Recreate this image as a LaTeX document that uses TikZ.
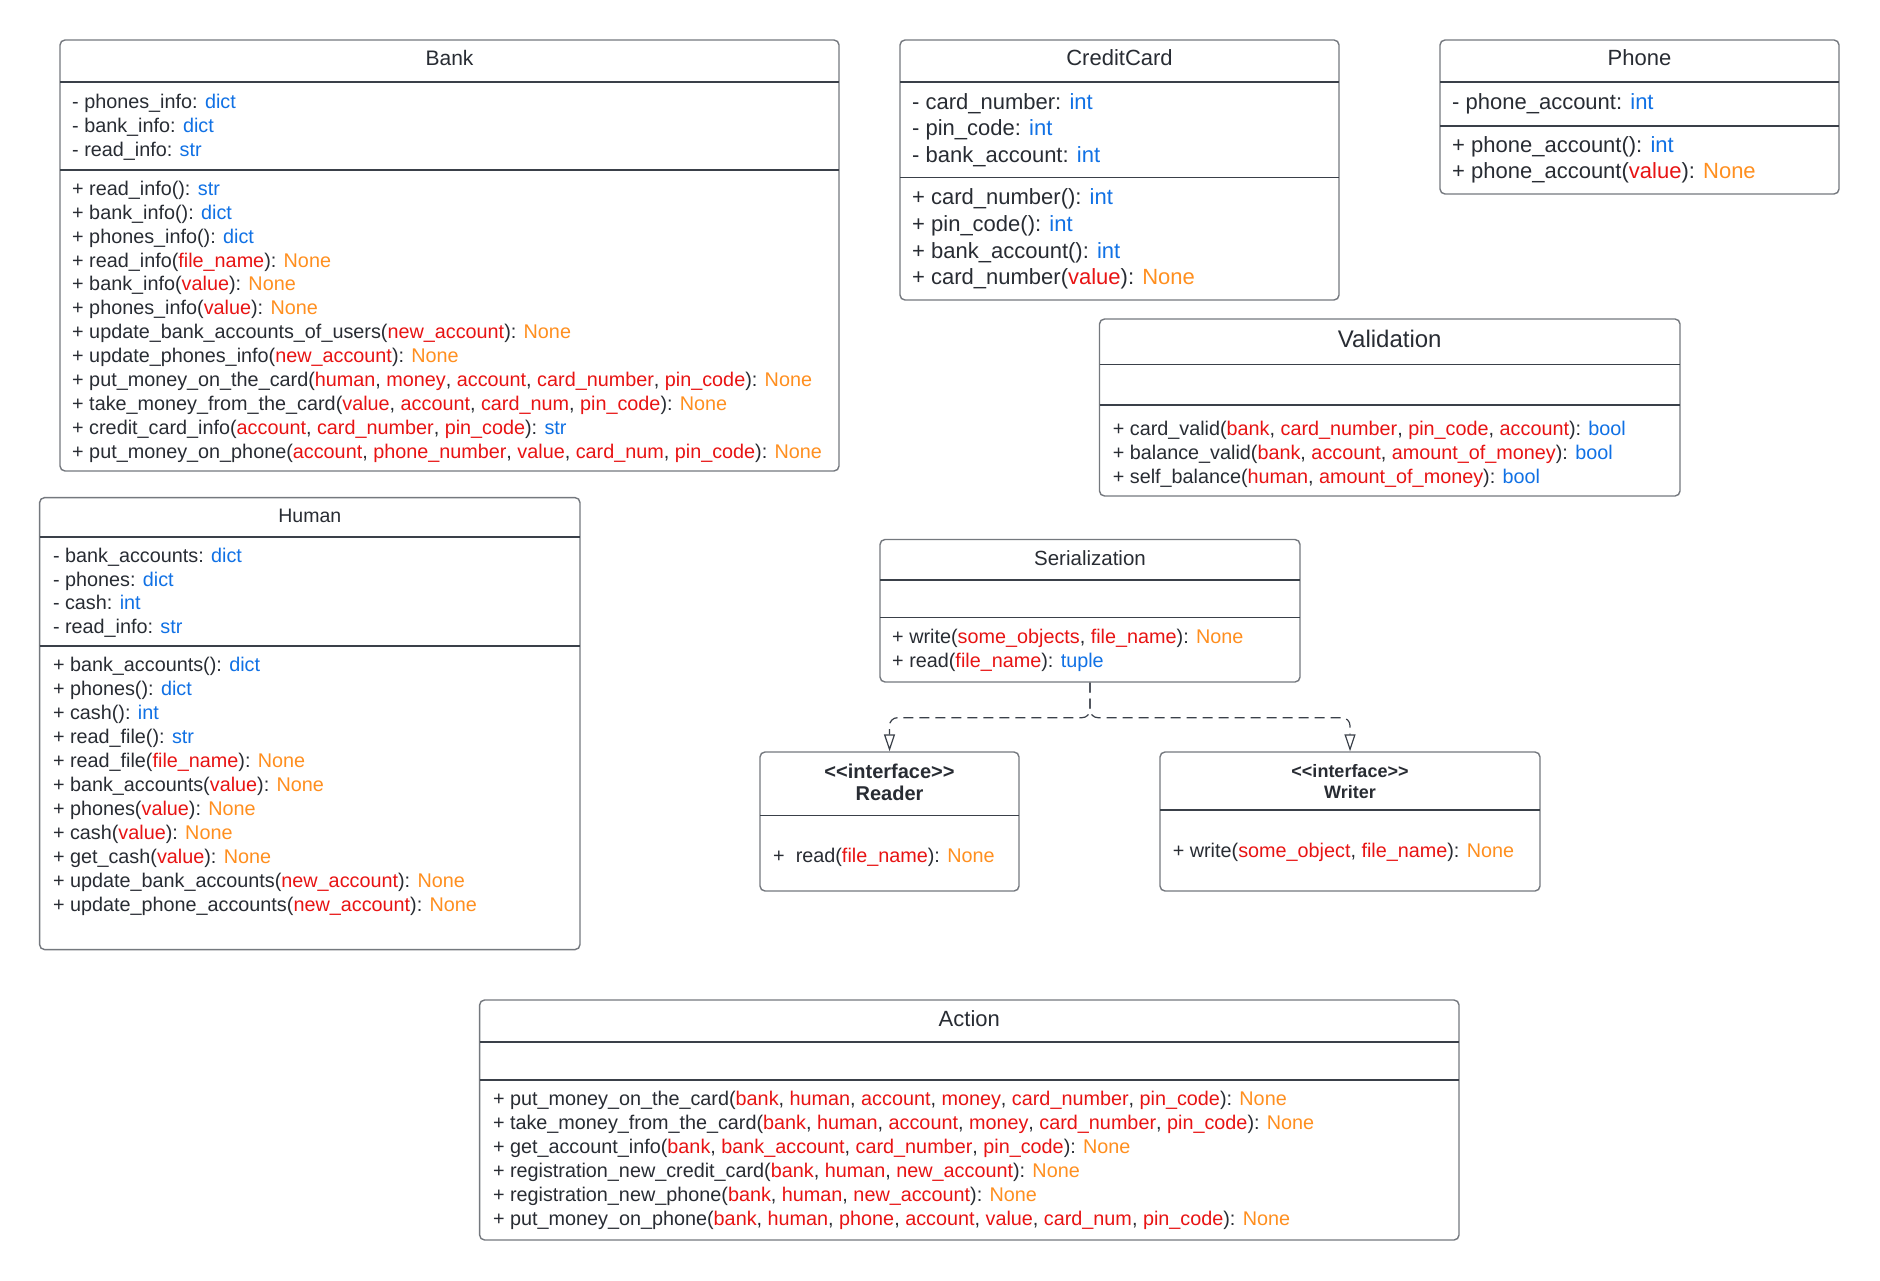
\documentclass[tikz,border=0pt]{standalone}
\usepackage{fontspec}
\setmainfont{Liberation Sans}
\usetikzlibrary{arrows.meta}
\definecolor{typeblue}{HTML}{1071E5}
\definecolor{argred}{HTML}{E81313}
\definecolor{noneorange}{HTML}{FF8F1F}
\definecolor{inkdark}{HTML}{282C33}
\definecolor{boxgray}{HTML}{74787E}
\definecolor{linedark}{HTML}{3A4049}
\newcommand{\typ}[1]{\textcolor{typeblue}{#1}}
\newcommand{\param}[1]{\textcolor{argred}{#1}}
\newcommand{\nonev}{\textcolor{noneorange}{None}}
\tikzset{
	classbox/.style={draw=boxgray, line width=1.4pt, rounded corners=5pt, fill=white, inner sep=0pt},
	divider/.style={draw=linedark, line width=1.1pt},
	classname/.style={inner sep=0pt, text=inkdark, text height=0.72em, text depth=0pt, yshift=-4.8pt},
	member/.style={anchor=west, inner sep=0pt, text=inkdark, text height=0.72em, text depth=0pt, yshift=-4.8pt, font=\fontsize{19.8}{24}\selectfont},
	bigmember/.style={member, font=\fontsize{22}{26}\selectfont},
	realize/.style={draw=linedark, line width=1.2pt, dash pattern=on 10pt off 6pt, rounded corners=8pt, -{Triangle[open, length=17pt, width=11pt, fill=white]}}
}
\begin{document}
\begin{tikzpicture}[x=1pt, y=-1pt]
	\useasboundingbox (0,0) rectangle (1880,1281);
	% Bank
	\node[classbox, minimum width=779pt, minimum height=431pt] (bank) at (449.5,255.5) {};
	\node[classname, font=\fontsize{21}{25}\selectfont] (bank-title) at (449.5,57.5) {Bank};
	\draw[divider] (60,82) -- (839,82);
	\draw[divider] (60,170) -- (839,170);
	\foreach \txt [count=\i] in {{- phones\_info: \typ{dict}}, {- bank\_info: \typ{dict}}, {- read\_info: \typ{str}}}
		\node[member] (bank-a\i) at (72,{76+24*\i}) {\txt};
	\foreach \txt [count=\i] in {{+ read\_info(): \typ{str}}, {+ bank\_info(): \typ{dict}}, {+ phones\_info(): \typ{dict}},
		{+ read\_info(\param{file\_name}): \nonev}, {+ bank\_info(\param{value}): \nonev}, {+ phones\_info(\param{value}): \nonev},
		{+ update\_bank\_accounts\_of\_users(\param{new\_account}): \nonev}, {+ update\_phones\_info(\param{new\_account}): \nonev},
		{+ put\_money\_on\_the\_card(\param{human}, \param{money}, \param{account}, \param{card\_number}, \param{pin\_code}): \nonev},
		{+ take\_money\_from\_the\_card(\param{value}, \param{account}, \param{card\_num}, \param{pin\_code}): \nonev},
		{+ credit\_card\_info(\param{account}, \param{card\_number}, \param{pin\_code}): \typ{str}},
		{+ put\_money\_on\_phone(\param{account}, \param{phone\_number}, \param{value}, \param{card\_num}, \param{pin\_code}): \nonev}}
		\node[member] (bank-m\i) at (72,{163.1+23.9*\i}) {\txt};
	% CreditCard
	\node[classbox, minimum width=439pt, minimum height=260pt] (card) at (1119.5,170) {};
	\node[classname, font=\fontsize{22}{26}\selectfont] (card-title) at (1119.5,57.5) {CreditCard};
	\draw[divider] (900,82) -- (1339,82);
	\draw[divider] (900,177.5) -- (1339,177.5);
	\foreach \txt [count=\i] in {{- card\_number: \typ{int}}, {- pin\_code: \typ{int}}, {- bank\_account: \typ{int}}}
		\node[bigmember] (card-a\i) at (912,{74.6+26.4*\i}) {\txt};
	\foreach \txt [count=\i] in {{+ card\_number(): \typ{int}}, {+ pin\_code(): \typ{int}}, {+ bank\_account(): \typ{int}}, {+ card\_number(\param{value}): \nonev}}
		\node[bigmember] (card-m\i) at (912,{170+26.6*\i}) {\txt};
	% Phone
	\node[classbox, minimum width=399pt, minimum height=154pt] (phone) at (1639.5,117) {};
	\node[classname, font=\fontsize{22}{26}\selectfont] (phone-title) at (1639.5,57.5) {Phone};
	\draw[divider] (1440,82) -- (1839,82);
	\draw[divider] (1440,126) -- (1839,126);
	\node[bigmember] (phone-a1) at (1452,101) {- phone\_account: \typ{int}};
	\foreach \txt [count=\i] in {{+ phone\_account(): \typ{int}}, {+ phone\_account(\param{value}): \nonev}}
		\node[bigmember] (phone-m\i) at (1452,{117.6+26.4*\i}) {\txt};
	% Validation
	\node[classbox, minimum width=580.5pt, minimum height=177pt] (valid) at (1389.75,407.5) {};
	\node[classname, font=\fontsize{24}{28}\selectfont] (valid-title) at (1389.75,339) {Validation};
	\draw[divider] (1099.5,364.5) -- (1680,364.5);
	\draw[divider] (1099.5,405) -- (1680,405);
	\foreach \txt [count=\i] in {{+ card\_valid(\param{bank}, \param{card\_number}, \param{pin\_code}, \param{account}): \typ{bool}},
		{+ balance\_valid(\param{bank}, \param{account}, \param{amount\_of\_money}): \typ{bool}},
		{+ self\_balance(\param{human}, \param{amount\_of\_money}): \typ{bool}}}
		\node[member] (valid-m\i) at (1112.6,{403+24*\i}) {\txt};
	% Human
	\node[classbox, minimum width=540.4pt, minimum height=452pt] (human) at (309.8,723.6) {};
	\node[classname, font=\fontsize{19.5}{23}\selectfont] (human-title) at (309.8,514) {Human};
	\draw[divider] (39.6,537) -- (580,537);
	\draw[divider] (39.6,646) -- (580,646);
	\foreach \txt [count=\i] in {{- bank\_accounts: \typ{dict}}, {- phones: \typ{dict}}, {- cash: \typ{int}}, {- read\_info: \typ{str}}}
		\node[member] (human-a\i) at (52.8,{530.4+23.6*\i}) {\txt};
	\foreach \txt [count=\i] in {{+ bank\_accounts(): \typ{dict}}, {+ phones(): \typ{dict}}, {+ cash(): \typ{int}}, {+ read\_file(): \typ{str}},
		{+ read\_file(\param{file\_name}): \nonev}, {+ bank\_accounts(\param{value}): \nonev}, {+ phones(\param{value}): \nonev},
		{+ cash(\param{value}): \nonev}, {+ get\_cash(\param{value}): \nonev},
		{+ update\_bank\_accounts(\param{new\_account}): \nonev}, {+ update\_phone\_accounts(\param{new\_account}): \nonev}}
		\node[member] (human-m\i) at (52.8,{639+24*\i}) {\txt};
	% Serialization
	\node[classbox, minimum width=420pt, minimum height=142.5pt] (ser) at (1090,610.75) {};
	\node[classname, font=\fontsize{20.5}{24}\selectfont] (ser-title) at (1090,557.5) {Serialization};
	\draw[divider] (880,580) -- (1300,580);
	\draw[divider] (880,617.5) -- (1300,617.5);
	\foreach \txt [count=\i] in {{+ write(\param{some\_objects}, \param{file\_name}): \nonev}, {+ read(\param{file\_name}): \typ{tuple}}}
		\node[member] (ser-m\i) at (892,{611.5+24*\i}) {\txt};
	% Reader
	\node[classbox, minimum width=259pt, minimum height=139pt] (reader) at (889.5,821.5) {};
	\node[classname, font=\fontsize{20}{24}\bfseries] (reader-stereo) at (889.5,770) {<{}<interface>{}>};
	\node[classname, font=\fontsize{20}{24}\bfseries] (reader-title) at (889.5,792) {Reader};
	\draw[divider] (760,815.5) -- (1019,815.5);
	\node[member] (reader-m1) at (773,854) {+\ \ read(\param{file\_name}): \nonev};
	% Writer
	\node[classbox, minimum width=380pt, minimum height=139pt] (writer) at (1350,821.5) {};
	\node[classname, font=\fontsize{18}{22}\bfseries] (writer-stereo) at (1350,769) {<{}<interface>{}>};
	\node[classname, font=\fontsize{18}{22}\bfseries] (writer-title) at (1350,790) {Writer};
	\draw[divider] (1160,810) -- (1540,810);
	\node[member] (writer-m1) at (1172.6,849) {+ write(\param{some\_object}, \param{file\_name}): \nonev};
	% Action
	\node[classbox, minimum width=979.4pt, minimum height=240pt] (action) at (969.3,1120) {};
	\node[classname, font=\fontsize{22}{26}\selectfont] (action-title) at (969.3,1018) {Action};
	\draw[divider] (479.6,1042) -- (1459,1042);
	\draw[divider] (479.6,1080) -- (1459,1080);
	\foreach \txt [count=\i] in {{+ put\_money\_on\_the\_card(\param{bank}, \param{human}, \param{account}, \param{money}, \param{card\_number}, \param{pin\_code}): \nonev},
		{+ take\_money\_from\_the\_card(\param{bank}, \param{human}, \param{account}, \param{money}, \param{card\_number}, \param{pin\_code}): \nonev},
		{+ get\_account\_info(\param{bank}, \param{bank\_account}, \param{card\_number}, \param{pin\_code}): \nonev},
		{+ registration\_new\_credit\_card(\param{bank}, \param{human}, \param{new\_account}): \nonev},
		{+ registration\_new\_phone(\param{bank}, \param{human}, \param{new\_account}): \nonev},
		{+ put\_money\_on\_phone(\param{bank}, \param{human}, \param{phone}, \param{account}, \param{value}, \param{card\_num}, \param{pin\_code}): \nonev}}
		\node[member] (action-m\i) at (492.8,{1073+24*\i}) {\txt};
	% realization of the interfaces
	\draw[realize] (ser.south) -- ++(0,35) -| (reader.north);
	\draw[realize] (ser.south) -- ++(0,35) -| (writer.north);
\end{tikzpicture}
\end{document}
